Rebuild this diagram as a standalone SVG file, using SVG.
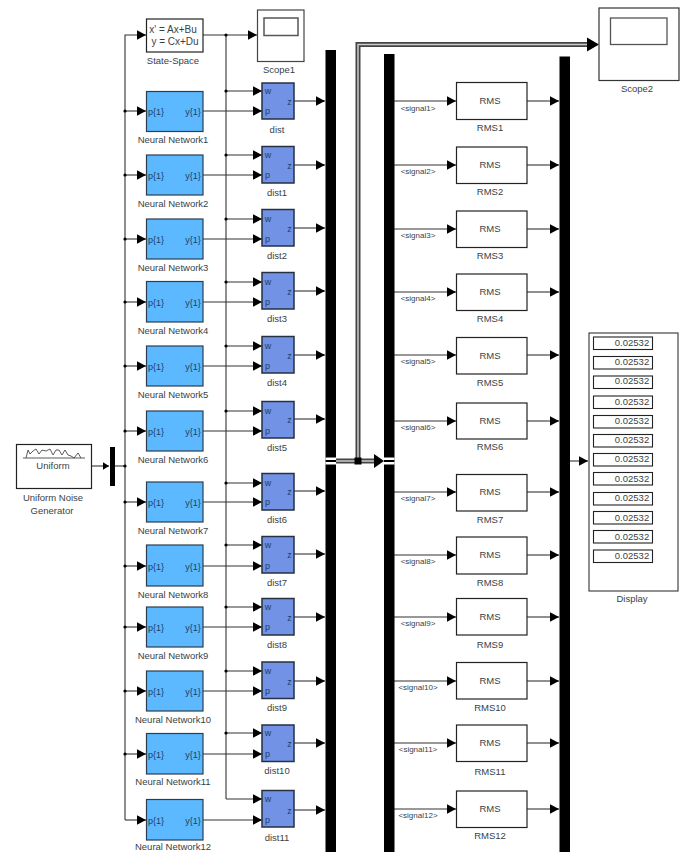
<svg xmlns="http://www.w3.org/2000/svg" width="683" height="852" viewBox="0 0 683 852">
<defs>
<style>
text{font-family:"Liberation Sans",Arial,sans-serif;font-size:9.5px;fill:#3a3f46;text-anchor:middle}
.s{font-size:8px}
.p{font-size:9px;fill:#1d3f66}
.w{fill:#fff;stroke:#222;stroke-width:1.2}
.nn{fill:#5cb8ff;stroke:#2b3d4f;stroke-width:1.2}
.d{fill:#7292e6;stroke:#263040;stroke-width:1.5}
.l{fill:none;stroke:#333;stroke-width:1.1}
.a{marker-end:url(#ah)}
.m{marker-end:url(#am)}
</style>
<marker id="ah" markerUnits="userSpaceOnUse" markerWidth="11" markerHeight="11" refX="9.500" refY="5.500" orient="auto"><path d="M0 .5L9.500 5.500L0 10.500Z" fill="#000"/></marker>
<marker id="am" markerUnits="userSpaceOnUse" markerWidth="8" markerHeight="9" refX="6.500" refY="4" orient="auto"><path d="M0 0L6.500 4L0 8Z" fill="#000"/></marker>
</defs>
<g id="connectors">
<path class="l m" d="M91 466H109"/>
<path class="l" d="M115 466H125"/>
<path class="l a" d="M125 466V35H146"/>
<path class="l" d="M125 466V820"/>
<path class="l a" d="M125 820H146"/>
<path class="l a" d="M125 111H146"/><path class="l a" d="M125 175H146"/><path class="l a" d="M125 239H146"/><path class="l a" d="M125 302H146"/><path class="l a" d="M125 366H146"/><path class="l a" d="M125 431H146"/><path class="l a" d="M125 502H146"/><path class="l a" d="M125 566H146"/><path class="l a" d="M125 627H146"/><path class="l a" d="M125 691H146"/><path class="l a" d="M125 754H146"/>
<path class="l a" d="M203 35H257"/>
<path class="l" d="M226 35V799"/>
<path class="l a" d="M226 91H262"/><path class="l a" d="M226 155H262"/><path class="l a" d="M226 219H262"/><path class="l a" d="M226 282H262"/><path class="l a" d="M226 346H262"/><path class="l a" d="M226 411H262"/><path class="l a" d="M226 483H262"/><path class="l a" d="M226 545H262"/><path class="l a" d="M226 607H262"/><path class="l a" d="M226 671H262"/><path class="l a" d="M226 733H262"/><path class="l a" d="M226 799H262"/>
<path class="l a" d="M203 111H262"/><path class="l a" d="M203 175H262"/><path class="l a" d="M203 239H262"/><path class="l a" d="M203 302H262"/><path class="l a" d="M203 366H262"/><path class="l a" d="M203 431H262"/><path class="l a" d="M203 502H262"/><path class="l a" d="M203 566H262"/><path class="l a" d="M203 627H262"/><path class="l a" d="M203 691H262"/><path class="l a" d="M203 754H262"/><path class="l a" d="M203 820H262"/>
<path class="l a" d="M294 101H325"/><path class="l a" d="M294 165H325"/><path class="l a" d="M294 228H325"/><path class="l a" d="M294 291H325"/><path class="l a" d="M294 355H325"/><path class="l a" d="M294 419H325"/><path class="l a" d="M294 491H325"/><path class="l a" d="M294 554H325"/><path class="l a" d="M294 617H325"/><path class="l a" d="M294 681H325"/><path class="l a" d="M294 743H325"/><path class="l a" d="M294 810H325"/>
<path class="l a" d="M394 101H456"/><path class="l a" d="M394 165H456"/><path class="l a" d="M394 229H456"/><path class="l a" d="M394 292H456"/><path class="l a" d="M394 355H456"/><path class="l a" d="M394 421H456"/><path class="l a" d="M394 492H456"/><path class="l a" d="M394 555H456"/><path class="l a" d="M394 617H456"/><path class="l a" d="M394 681H456"/><path class="l a" d="M394 743H456"/><path class="l a" d="M394 809H456"/>
<path class="l a" d="M527 101H559"/><path class="l a" d="M527 165H559"/><path class="l a" d="M527 229H559"/><path class="l a" d="M527 292H559"/><path class="l a" d="M527 355H559"/><path class="l a" d="M527 421H559"/><path class="l a" d="M527 492H559"/><path class="l a" d="M527 555H559"/><path class="l a" d="M527 617H559"/><path class="l a" d="M527 681H559"/><path class="l a" d="M527 743H559"/><path class="l a" d="M527 809H559"/>
<path class="l a" d="M570 461H588"/>
<path d="M358 461V44.500H590" fill="none" stroke="#444" stroke-width="5"/>
<path d="M358 461V44.500H590" fill="none" stroke="#ccc" stroke-width="1.500"/>
<path d="M336 461H377" fill="none" stroke="#444" stroke-width="5"/>
<path d="M336 461H377" fill="none" stroke="#ccc" stroke-width="1.500"/>
<path d="M587 37.500L599 44.500L587 51.500Z" fill="#000"/>
<path d="M374 454L384 461L374 468Z" fill="#000"/>
<rect x="354.500" y="457.500" width="7" height="7" fill="#000"/>
<g fill="#000">
<circle cx="125" cy="466" r="1.600"/>
<circle cx="125" cy="111" r="1.600"/><circle cx="125" cy="175" r="1.600"/><circle cx="125" cy="239" r="1.600"/><circle cx="125" cy="302" r="1.600"/><circle cx="125" cy="366" r="1.600"/><circle cx="125" cy="431" r="1.600"/><circle cx="125" cy="502" r="1.600"/><circle cx="125" cy="566" r="1.600"/><circle cx="125" cy="627" r="1.600"/><circle cx="125" cy="691" r="1.600"/><circle cx="125" cy="754" r="1.600"/>
<circle cx="226" cy="35" r="1.600"/><circle cx="226" cy="91" r="1.600"/><circle cx="226" cy="155" r="1.600"/><circle cx="226" cy="219" r="1.600"/><circle cx="226" cy="282" r="1.600"/><circle cx="226" cy="346" r="1.600"/><circle cx="226" cy="411" r="1.600"/><circle cx="226" cy="483" r="1.600"/><circle cx="226" cy="545" r="1.600"/><circle cx="226" cy="607" r="1.600"/><circle cx="226" cy="671" r="1.600"/><circle cx="226" cy="733" r="1.600"/>
</g>
<text class="s" x="418" y="111">&lt;signal1&gt;</text>
<text class="s" x="418" y="174">&lt;signal2&gt;</text>
<text class="s" x="418" y="238">&lt;signal3&gt;</text>
<text class="s" x="418" y="301">&lt;signal4&gt;</text>
<text class="s" x="418" y="364">&lt;signal5&gt;</text>
<text class="s" x="418" y="430">&lt;signal6&gt;</text>
<text class="s" x="418" y="501">&lt;signal7&gt;</text>
<text class="s" x="418" y="564">&lt;signal8&gt;</text>
<text class="s" x="418" y="626">&lt;signal9&gt;</text>
<text class="s" x="418" y="690">&lt;signal10&gt;</text>
<text class="s" x="418" y="752">&lt;signal11&gt;</text>
<text class="s" x="418" y="818">&lt;signal12&gt;</text>
</g>
<g id="uniform"><rect class="w" x="16.500" y="444.500" width="75" height="44"/><path d="M23 458H85M26 458L28 450L30 454L33 451L36 449L39 454L42 450L46 451L50 449L53 455L56 450L59 450L62 455L65 450L68 455L71 456L74 458L78 453L81 458" fill="none" stroke="#333" stroke-width=".8"/><text x="53" y="469">Uniform</text><text x="53" y="501">Uniform Noise</text><text x="52" y="514">Generator</text></g>
<g id="mux"><rect x="110" y="447" width="5" height="39" fill="#000"/></g>
<g id="bus1" fill="#000"><rect x="325.500" y="50" width="10.500" height="802"/><rect x="325.500" y="457.500" width="10.500" height="2.500" fill="#fff"/><rect x="325.500" y="462" width="10.500" height="2.500" fill="#fff"/></g>
<g id="bus2" fill="#000"><rect x="384" y="54" width="10.500" height="798"/><rect x="384" y="457.500" width="10.500" height="2.500" fill="#fff"/><rect x="384" y="462" width="10.500" height="2.500" fill="#fff"/></g>
<g id="bus3"><rect x="559.500" y="56.500" width="10.500" height="795.500" fill="#000"/></g>
<g id="state-space"><rect class="w" x="146.500" y="19" width="56.500" height="33"/><text x="173" y="33" style="font-size:10px">x' = Ax+Bu</text><text x="175" y="45" style="font-size:10px">y = Cx+Du</text><text x="173" y="64">State-Space</text></g>
<g id="scope1"><rect x="257.500" y="10" width="46.500" height="51.500" fill="#fff" stroke="#444" stroke-width="1.200"/><rect x="264" y="18" width="34" height="17.500" fill="#fff" stroke="#555" stroke-width="1.500"/><text x="279" y="73">Scope1</text></g>
<g id="scope2"><rect x="599" y="8" width="80" height="72.500" fill="#fff" stroke="#333" stroke-width="1.200"/><rect x="610.500" y="18" width="56.500" height="26.500" fill="#fff" stroke="#555" stroke-width="1.300"/><text x="637" y="92">Scope2</text></g>
<g id="nn1"><rect class="nn" x="146.500" y="91.500" width="56.500" height="40"/><text class="p" x="156" y="115">p{1}</text><text class="p" x="193" y="115">y{1}</text><text x="173" y="143">Neural Network1</text></g>
<g id="nn2"><rect class="nn" x="146.500" y="155" width="56.500" height="40"/><text class="p" x="156" y="179">p{1}</text><text class="p" x="193" y="179">y{1}</text><text x="173" y="207">Neural Network2</text></g>
<g id="nn3"><rect class="nn" x="146.500" y="219" width="56.500" height="40"/><text class="p" x="156" y="243">p{1}</text><text class="p" x="193" y="243">y{1}</text><text x="173" y="271">Neural Network3</text></g>
<g id="nn4"><rect class="nn" x="146.500" y="281.500" width="56.500" height="40.500"/><text class="p" x="156" y="306">p{1}</text><text class="p" x="193" y="306">y{1}</text><text x="173" y="334">Neural Network4</text></g>
<g id="nn5"><rect class="nn" x="146.500" y="346" width="56.500" height="40"/><text class="p" x="156" y="370">p{1}</text><text class="p" x="193" y="370">y{1}</text><text x="173" y="398">Neural Network5</text></g>
<g id="nn6"><rect class="nn" x="146.500" y="411" width="56.500" height="40"/><text class="p" x="156" y="435">p{1}</text><text class="p" x="193" y="435">y{1}</text><text x="173" y="463">Neural Network6</text></g>
<g id="nn7"><rect class="nn" x="146.500" y="482" width="56.500" height="40"/><text class="p" x="156" y="506">p{1}</text><text class="p" x="193" y="506">y{1}</text><text x="173" y="534">Neural Network7</text></g>
<g id="nn8"><rect class="nn" x="146.500" y="545" width="56.500" height="41"/><text class="p" x="156" y="570">p{1}</text><text class="p" x="193" y="570">y{1}</text><text x="173" y="598">Neural Network8</text></g>
<g id="nn9"><rect class="nn" x="146.500" y="607" width="56.500" height="40"/><text class="p" x="156" y="631">p{1}</text><text class="p" x="193" y="631">y{1}</text><text x="173" y="659">Neural Network9</text></g>
<g id="nn10"><rect class="nn" x="146.500" y="671" width="56.500" height="40"/><text class="p" x="156" y="695">p{1}</text><text class="p" x="193" y="695">y{1}</text><text x="173" y="723">Neural Network10</text></g>
<g id="nn11"><rect class="nn" x="146.500" y="733.500" width="56.500" height="40.500"/><text class="p" x="156" y="758">p{1}</text><text class="p" x="193" y="758">y{1}</text><text x="173" y="785">Neural Network11</text></g>
<g id="nn12"><rect class="nn" x="146.500" y="799.500" width="56.500" height="40.500"/><text class="p" x="156" y="824">p{1}</text><text class="p" x="193" y="824">y{1}</text><text x="173" y="850">Neural Network12</text></g>
<g id="dist"><rect class="d" x="262" y="83" width="32" height="36"/><text class="p" x="268" y="94">w</text><text class="p" x="267.500" y="114">p</text><text class="p" x="289.500" y="105">z</text><text x="277" y="133">dist</text></g>
<g id="dist1"><rect class="d" x="262" y="146.500" width="32" height="36.500"/><text class="p" x="268" y="158">w</text><text class="p" x="267.500" y="178">p</text><text class="p" x="289.500" y="169">z</text><text x="277" y="196">dist1</text></g>
<g id="dist2"><rect class="d" x="262" y="209.500" width="32" height="36.500"/><text class="p" x="268" y="222">w</text><text class="p" x="267.500" y="242">p</text><text class="p" x="289.500" y="232">z</text><text x="277" y="259">dist2</text></g>
<g id="dist3"><rect class="d" x="262" y="272.500" width="32" height="36.500"/><text class="p" x="268" y="285">w</text><text class="p" x="267.500" y="305">p</text><text class="p" x="289.500" y="295">z</text><text x="277" y="322">dist3</text></g>
<g id="dist4"><rect class="d" x="262" y="336.500" width="32" height="36.500"/><text class="p" x="268" y="349">w</text><text class="p" x="267.500" y="369">p</text><text class="p" x="289.500" y="359">z</text><text x="277" y="386">dist4</text></g>
<g id="dist5"><rect class="d" x="262" y="401.500" width="32" height="36.500"/><text class="p" x="268" y="414">w</text><text class="p" x="267.500" y="434">p</text><text class="p" x="289.500" y="423">z</text><text x="277" y="451">dist5</text></g>
<g id="dist6"><rect class="d" x="262" y="473.500" width="32" height="36.500"/><text class="p" x="268" y="486">w</text><text class="p" x="267.500" y="505">p</text><text class="p" x="289.500" y="495">z</text><text x="277" y="523">dist6</text></g>
<g id="dist7"><rect class="d" x="262" y="536.500" width="32" height="36.500"/><text class="p" x="268" y="548">w</text><text class="p" x="267.500" y="569">p</text><text class="p" x="289.500" y="558">z</text><text x="277" y="586">dist7</text></g>
<g id="dist8"><rect class="d" x="262" y="598.500" width="32" height="36.500"/><text class="p" x="268" y="610">w</text><text class="p" x="267.500" y="630">p</text><text class="p" x="289.500" y="621">z</text><text x="277" y="648">dist8</text></g>
<g id="dist9"><rect class="d" x="262" y="662" width="32" height="36.500"/><text class="p" x="268" y="674">w</text><text class="p" x="267.500" y="694">p</text><text class="p" x="289.500" y="685">z</text><text x="277" y="711">dist9</text></g>
<g id="dist10"><rect class="d" x="262" y="725" width="32" height="36.500"/><text class="p" x="268" y="736">w</text><text class="p" x="267.500" y="757">p</text><text class="p" x="289.500" y="747">z</text><text x="277" y="774">dist10</text></g>
<g id="dist11"><rect class="d" x="262" y="790.500" width="32" height="36.500"/><text class="p" x="268" y="802">w</text><text class="p" x="267.500" y="823">p</text><text class="p" x="289.500" y="814">z</text><text x="277" y="841">dist11</text></g>
<g id="rms1"><rect class="w" x="456.500" y="82.500" width="70.500" height="37"/><text x="490" y="104">RMS</text><text x="490" y="131">RMS1</text></g>
<g id="rms2"><rect class="w" x="456.500" y="147" width="70.500" height="36.500"/><text x="490" y="168">RMS</text><text x="490" y="195">RMS2</text></g>
<g id="rms3"><rect class="w" x="456.500" y="211" width="70.500" height="36.500"/><text x="490" y="232">RMS</text><text x="490" y="259">RMS3</text></g>
<g id="rms4"><rect class="w" x="456.500" y="274" width="70.500" height="36.500"/><text x="490" y="295">RMS</text><text x="490" y="322">RMS4</text></g>
<g id="rms5"><rect class="w" x="456.500" y="337.500" width="70.500" height="36.500"/><text x="490" y="359">RMS</text><text x="490" y="386">RMS5</text></g>
<g id="rms6"><rect class="w" x="456.500" y="403" width="70.500" height="36"/><text x="490" y="424">RMS</text><text x="490" y="450">RMS6</text></g>
<g id="rms7"><rect class="w" x="456.500" y="474.500" width="70.500" height="36.500"/><text x="490" y="495">RMS</text><text x="490" y="523">RMS7</text></g>
<g id="rms8"><rect class="w" x="456.500" y="537" width="70.500" height="37"/><text x="490" y="558">RMS</text><text x="490" y="586">RMS8</text></g>
<g id="rms9"><rect class="w" x="456.500" y="598.500" width="70.500" height="36.500"/><text x="490" y="620">RMS</text><text x="490" y="648">RMS9</text></g>
<g id="rms10"><rect class="w" x="456.500" y="662.500" width="70.500" height="36.500"/><text x="490" y="684">RMS</text><text x="490" y="711">RMS10</text></g>
<g id="rms11"><rect class="w" x="456.500" y="725" width="70.500" height="36.500"/><text x="490" y="746">RMS</text><text x="490" y="775">RMS11</text></g>
<g id="rms12"><rect class="w" x="456.500" y="791" width="70.500" height="36.500"/><text x="490" y="812">RMS</text><text x="490" y="839">RMS12</text></g>
<g id="display"><rect x="589" y="333" width="89" height="258" fill="#fff" stroke="#333" stroke-width="1.100"/>
<g fill="#fff" stroke="#222" stroke-width="1.100"><rect x="593.500" y="337" width="59" height="12.500"/><rect x="593.500" y="356.500" width="59" height="12.500"/><rect x="593.500" y="376" width="59" height="12.500"/><rect x="593.500" y="396" width="59" height="12.500"/><rect x="593.500" y="415.500" width="59" height="12.500"/><rect x="593.500" y="434.500" width="59" height="12.500"/><rect x="593.500" y="453.500" width="59" height="12.500"/><rect x="593.500" y="472.500" width="59" height="12.500"/><rect x="593.500" y="492.500" width="59" height="12.500"/><rect x="593.500" y="511.500" width="59" height="12.500"/><rect x="593.500" y="530.500" width="59" height="12.500"/><rect x="593.500" y="550" width="59" height="12.500"/></g>
<text x="632" y="346">0.02532</text><text x="632" y="365">0.02532</text><text x="632" y="384">0.02532</text><text x="632" y="405">0.02532</text><text x="632" y="424">0.02532</text><text x="632" y="443">0.02532</text><text x="632" y="462">0.02532</text><text x="632" y="482">0.02532</text><text x="632" y="501">0.02532</text><text x="632" y="521">0.02532</text><text x="632" y="540">0.02532</text><text x="632" y="559">0.02532</text>
<text x="632" y="602">Display</text></g>
</svg>
